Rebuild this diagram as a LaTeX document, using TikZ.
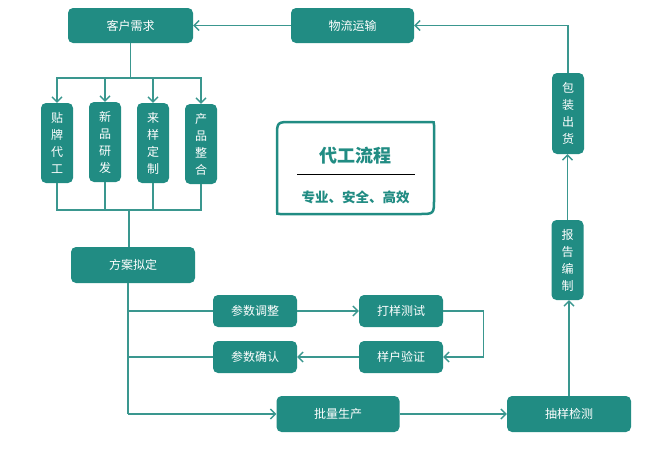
\documentclass[tikz,border=0pt]{standalone}
\usepackage{fontspec}
\newfontfamily\cjk{Noto Sans CJK SC}
\usetikzlibrary{arrows.meta}

\definecolor{teal1}{HTML}{218C83}
\definecolor{teal2}{HTML}{3A978F}

\begin{document}
\begin{tikzpicture}[x=1pt, y=-1pt,
    every node/.style={font=\cjk\fontsize{12}{17}\selectfont, text=white},
    box/.style={fill=teal1, rounded corners=5pt, inner sep=0pt},
    vbox/.style={box, minimum width=32pt, minimum height=80pt, align=center},
    line/.style={draw=teal2, line width=1.3pt},
    arr/.style={line, -{Straight Barb[length=5pt, width=10pt]}}]

    \useasboundingbox (0,0) rectangle (671,455);

    % Nodes
    \node[box, minimum width=125pt, minimum height=35pt] (kehu) at (130.5,25.5) {客户需求};
    \node[box, minimum width=123pt, minimum height=35pt] (wuliu) at (352.5,25.5) {物流运输};
    \node[vbox] (tiepai)  at (57,143)  {贴\\牌\\代\\工};
    \node[vbox] (xinpin)  at (105,142) {新\\品\\研\\发};
    \node[vbox] (laiyang) at (153,143) {来\\样\\定\\制};
    \node[vbox] (chanpin) at (201,144) {产\\品\\整\\合};
    \node[box, minimum width=124pt, minimum height=36pt] (fangan) at (133,265) {方案拟定};
    \node[box, minimum width=84pt, minimum height=32pt] (canshutz) at (255,311) {参数调整};
    \node[box, minimum width=84pt, minimum height=32pt] (canshuqr) at (255,357) {参数确认};
    \node[box, minimum width=84pt, minimum height=32pt] (dayang) at (401,311) {打样测试};
    \node[box, minimum width=84pt, minimum height=32pt] (yanghu) at (401,357) {样户验证};
    \node[box, minimum width=123pt, minimum height=36pt] (piliang) at (338,414) {批量生产};
    \node[box, minimum width=124pt, minimum height=36pt] (chouyang) at (569,414) {抽样检测};
    \node[vbox, minimum height=80pt] (baogao) at (567.5,260) {报\\告\\编\\制};
    \node[vbox, minimum height=81pt] (baozhuang) at (568,113.5) {包\\装\\出\\货};

    % Title
    \draw[draw=teal1, fill=white, line width=2.5pt]
        (280,214) .. controls (277,214) .. (277,211) -- (277,137)
        .. controls (277,122) .. (292,122) -- (431,122)
        .. controls (434,122) .. (434,125) -- (434,199)
        .. controls (434,214) .. (419,214) -- cycle;
    \node[text=teal1, font=\cjk\bfseries\fontsize{18}{20}\selectfont] (title) at (355.5,156) {代工流程};
    \node[text=teal1, font=\cjk\bfseries\fontsize{13.5}{15}\selectfont] (slogan) at (355.5,197) {专业、安全、高效};
    \draw[line width=0.9pt] (297,174) -- (415,174);

    % Lines
    \coordinate (T) at (130.5,78);
    \coordinate (B) at (129,210);
    \coordinate (F) at (128,414);

    \draw[line] (kehu.south) -- (T);
    \draw[arr] (T) -| (tiepai.north);
    \draw[arr] (T) -| (xinpin.north);
    \draw[arr] (T) -| (laiyang.north);
    \draw[arr] (T) -| (chanpin.north);

    \draw[line] (tiepai.south) |- (B);
    \draw[line] (xinpin.south) |- (B);
    \draw[line] (laiyang.south) |- (B);
    \draw[line] (chanpin.south) |- (B);
    \draw[line] (B) -- (B |- fangan.north);

    \draw[line] (fangan.south -| F) -- (F);
    \draw[line] (canshutz.west) -- (canshutz.west -| F);
    \draw[line] (canshuqr.west) -- (canshuqr.west -| F);
    \draw[arr] (F) -- (piliang.west);

    \draw[arr] (canshutz.east) -- (dayang.west);
    \draw[arr] (dayang.east) -- ++(40,0) |- (yanghu.east);
    \draw[arr] (yanghu.west) -- (canshuqr.east);

    \draw[arr] (piliang.east) -- (chouyang.west);
    \draw[arr] (chouyang.north) -- (chouyang.north |- baogao.south);
    \draw[arr] (baogao.north) -- (baogao.north |- baozhuang.south);
    \draw[arr] (baozhuang.north) |- (wuliu.east);
    \draw[arr] (wuliu.west) -- (kehu.east);

\end{tikzpicture}
\end{document}
